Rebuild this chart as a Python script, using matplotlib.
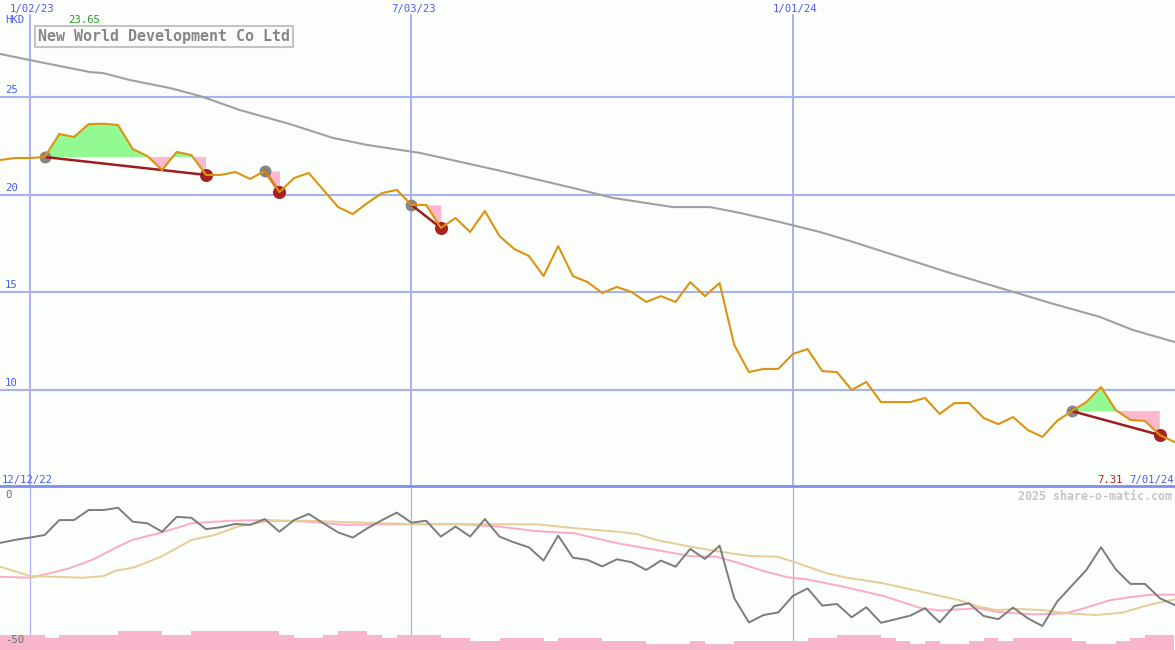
import numpy as np
import matplotlib
matplotlib.use('Agg')
import matplotlib.pyplot as plt

# weekly closes, week 0 = 2 Jan 2023
weeks = np.arange(-2, 79)
price = [21.79, 21.89, 21.89, 21.94, 23.12, 22.97, 23.63, 23.65, 23.58, 22.35,
         21.99, 21.27, 22.20, 22.04, 21.02, 21.02, 21.17, 20.81, 21.22, 20.14,
         20.86, 21.12, 20.25, 19.37, 19.01, 19.58, 20.09, 20.25, 19.48, 19.48,
         18.30, 18.81, 18.09, 19.17, 17.88, 17.22, 16.86, 15.83, 17.37, 15.83,
         15.52, 14.96, 15.27, 15.01, 14.50, 14.80, 14.50, 15.52, 14.80, 15.47,
         12.29, 10.90, 11.06, 11.06, 11.83, 12.08, 10.95, 10.90, 9.98, 10.39,
         9.36, 9.36, 9.36, 9.57, 8.75, 9.31, 9.31, 8.54, 8.23, 8.59,
         7.93, 7.57, 8.39, 8.90, 9.36, 10.13, 8.95, 8.44, 8.39, 7.67, 7.31]

# long moving average (grey)
ma_weeks = [-2.04, -0.68, 1.36, 4.09, 4.98, 6.82, 9.54, 11.59, 14.31, 17.72,
            20.65, 22.97, 26.58, 31.83, 37.01, 39.73, 43.82, 46.34, 48.39, 51.11,
            53.84, 55.88, 59.29, 62.70, 66.11, 69.52, 72.92, 75.17, 78.03]
ma_price = [27.23, 27.02, 26.71, 26.30, 26.25, 25.89, 25.48, 25.07, 24.35, 23.63,
            22.92, 22.56, 22.15, 21.27, 20.35, 19.84, 19.37, 19.37, 19.07, 18.60,
            18.09, 17.63, 16.81, 15.99, 15.22, 14.45, 13.73, 13.06, 12.44]

# buy / sell signals (week index)
sig_start = [1, 16, 26, 71]
sig_end = [12, 17, 28, 77]

# lower panel
osc = [-16.9, -16.0, -15.3, -14.5, -9.9, -9.9, -6.8, -6.8, -6.1, -10.4,
       -10.9, -13.5, -8.9, -9.2, -12.7, -12.1, -11.1, -11.4, -9.6, -13.5,
       -9.9, -8.0, -10.9, -13.7, -15.3, -12.4, -9.9, -7.6, -10.7, -10.1,
       -15.0, -11.9, -15.0, -9.6, -15.0, -16.8, -18.3, -22.4, -14.7, -21.5,
       -22.2, -24.2, -22.0, -22.9, -25.3, -22.4, -24.3, -18.8, -21.9, -17.8,
       -34.0, -41.5, -39.2, -38.4, -33.3, -31.0, -36.3, -35.8, -39.9, -36.8,
       -41.6, -40.5, -39.4, -37.1, -41.5, -36.4, -35.6, -39.5, -40.5, -36.9,
       -40.2, -42.6, -35.1, -30.2, -25.3, -18.3, -25.1, -29.6, -29.6, -34.0, -36.1]

pink_weeks = [-2.04, 0.05, 1.36, 2.66, 4.23, 5.79, 6.97, 8.93, 11.02, 13.63,
              16.22, 18.86, 21.47, 24.08, 26.69, 29.3, 31.91, 34.52, 37.13, 40.07,
              42.65, 44.98, 46.79, 48.33, 49.89, 51.69, 52.98, 55.57, 58.15, 60.74,
              62.03, 64.61, 65.9, 67.2, 68.49, 70.55, 71.85, 73.65, 74.95, 76.24, 77.99]
pink_ma = [-27.4, -27.7, -26.3, -24.8, -22.2, -18.6, -16.0, -13.8, -10.9, -10.1,
           -9.9, -10.4, -11.4, -11.2, -11.2, -11.2, -11.9, -13.3, -14.0, -17.1,
           -19.1, -21.0, -21.2, -23.2, -25.5, -27.6, -28.2, -30.6, -33.3, -37.1,
           -37.8, -37.1, -38.2, -38.7, -39.0, -38.7, -37.1, -34.6, -33.7, -33.0, -32.9]

tan_weeks = [-2.04, 0.05, 1.88, 3.58, 5.02, 5.79, 7.1, 8.93, 11.02, 12.59,
             14.16, 16.22, 18.86, 21.47, 24.08, 26.69, 29.3, 31.91, 34.52, 37.13,
             40.07, 41.36, 42.65, 45.23, 47.82, 49.11, 50.92, 52.0, 54.28, 55.57,
             58.15, 60.74, 63.32, 64.61, 65.9, 67.2, 69.0, 70.81, 72.62, 74.43, 76.24, 77.99]
tan_ma = [-24.3, -27.2, -27.4, -27.7, -27.2, -25.6, -24.5, -21.2, -16.0, -14.5,
          -11.9, -10.2, -10.1, -10.5, -10.9, -11.2, -11.1, -11.2, -11.2, -12.4,
          -13.5, -14.2, -16.0, -18.3, -20.2, -21.0, -21.2, -22.7, -26.3, -27.6,
          -29.4, -32.0, -34.6, -36.6, -37.7, -37.3, -37.7, -38.7, -39.2, -38.5, -36.1, -34.4]

bar_weeks = np.arange(-3, 78)
bar_h = [4.6, 4.6, 4.6, 4.6, 3.8, 4.6, 4.6, 4.6, 4.6, 5.9,
         5.9, 5.9, 4.6, 4.6, 5.9, 5.9, 5.9, 5.9, 5.9, 5.9,
         4.6, 3.8, 3.8, 4.6, 5.9, 5.9, 4.6, 3.8, 4.6, 4.6,
         4.6, 3.8, 3.8, 2.8, 2.8, 3.8, 3.8, 3.8, 2.8, 3.8,
         3.8, 3.8, 2.8, 2.8, 2.8, 1.9, 1.9, 1.9, 2.8, 1.9,
         1.9, 2.8, 2.8, 2.8, 2.8, 2.8, 3.8, 3.8, 4.6, 4.6,
         4.6, 3.8, 2.8, 1.9, 2.8, 1.9, 1.9, 2.8, 3.8, 2.8,
         3.8, 3.8, 3.8, 3.8, 2.8, 1.9, 1.9, 2.8, 3.8, 4.6, 4.6]

grid_levels = [25, 20, 15, 10]
date_weeks = [0, 26, 52]
date_labels = ['1/02/23', '7/03/23', '1/01/24']

bg = '#fbfefb'
blue = '#4a5ef0'
gridc = '#a6b2f2'
W, H = 1175, 650
xlim = (-2.045, 78.04)
fs = 7.7


def fpos(x, y):
    return x / W, 1 - y / H


fig = plt.figure(figsize=(11.75, 6.5), dpi=100, facecolor=bg)

############### main panel ###############
ax = fig.add_axes([0, 163 / H, 1, 487 / H])
ax.set_xlim(*xlim)
ax.set_ylim(5, 30)
ax.axis('off')

for lv in grid_levels:
    ax.axhline(lv, color=gridc, lw=1.5, zorder=1)
for w in date_weeks:
    ax.axvline(w, ymin=0, ymax=(487 - 15) / 487, color=gridc, lw=1.4, zorder=1)

ax.plot(ma_weeks, ma_price, color='#a0a0a0', lw=1.5, zorder=2)

wk = np.array(weeks)
pr = np.array(price)
for s, e in zip(sig_start, sig_end):
    i0, i1 = s + 2, e + 2
    xs = wk[i0:i1 + 1]
    ys = pr[i0:i1 + 1]
    level = pr[i0]
    ax.fill_between(xs, level, ys, where=ys >= level, interpolate=True,
                    color='#93f993', lw=0, zorder=3)
    ax.fill_between(xs, level, ys, where=ys <= level, interpolate=True,
                    color='#fdb8cc', lw=0, zorder=3)
    ax.plot([s], [pr[i0]], 'o', color='#868686', ms=8.6, mec='none', zorder=4)
    ax.plot([e], [pr[i1]], 'o', color='#a82222', ms=9.4, mec='none', zorder=4)
    ax.plot([s, e], [pr[i0], pr[i1]], color='#a01c1c', lw=1.8, zorder=5)

ax.plot(weeks, price, color='#dc9410', lw=1.5, zorder=6)
ax.axhline(5.06, color='#7f8ff0', lw=2.0, zorder=7, clip_on=False)

############### lower panel ###############
ax2 = fig.add_axes([0, 0, 1, 162 / H])
ax2.set_xlim(*xlim)
ax2.set_ylim(-50, 0)
ax2.axis('off')
for w in date_weeks:
    ax2.axvline(w, color='#a8b0f2', lw=0.9, zorder=1)
ax2.bar(bar_weeks, bar_h, width=1.0, align='edge', bottom=-50,
        color='#f9b5ca', lw=0, zorder=2)
ax2.plot(pink_weeks, pink_ma, color='#fcaac8', lw=1.4, zorder=3)
ax2.plot(tan_weeks, tan_ma, color='#e6cc98', lw=1.4, zorder=3)
ax2.plot(weeks, osc, color='#7c7c7c', lw=1.4, zorder=4)

############### texts ###############
mono = 'DejaVu Sans Mono'
for w, lab in zip(date_weeks, date_labels):
    xp = 30 + w * 14.673
    fig.text(*fpos(xp + 2, 9), lab, color=blue, family=mono, fontsize=fs,
             ha='center', va='center')
for lv in grid_levels:
    yp = (30 - lv) * 19.48
    fig.text(*fpos(5, yp - 7), str(lv), color=blue, family=mono, fontsize=fs,
             ha='left', va='center')
fig.text(*fpos(5, 20), 'HKD', color=blue, family=mono, fontsize=fs, va='center')
fig.text(*fpos(68, 20), '%.2f' % max(price), color='#22a022', family=mono,
         fontsize=fs, va='center')
fig.text(*fpos(38, 36.5), 'New World Development Co Ltd', color='#868686',
         family=mono, fontsize=10.8, fontweight='bold', va='center',
         bbox=dict(boxstyle='square,pad=0.22', fc=bg, ec='#c4c4c4', lw=1.5))
fig.text(*fpos(2, 480), '12/12/22', color=blue, family=mono, fontsize=fs,
         va='center')
fig.text(*fpos(1123, 480), '%.2f' % price[-1], color='#a82222', family=mono,
         fontsize=fs, ha='right', va='center')
fig.text(*fpos(1174, 480), '7/01/24', color=blue, family=mono, fontsize=fs,
         ha='right', va='center')
fig.text(*fpos(1172, 496), '2025 share-o-matic.com', color='#c6c6c6',
         family=mono, fontsize=8.4, fontweight='bold', ha='right', va='center')
fig.text(*fpos(5, 495), '0', color='#707070', family=mono, fontsize=fs,
         va='center')
fig.text(*fpos(5, 640), '-50', color='#707070', family=mono, fontsize=fs,
         va='center', zorder=10)

fig.savefig('out.png', dpi=100, facecolor=bg)
